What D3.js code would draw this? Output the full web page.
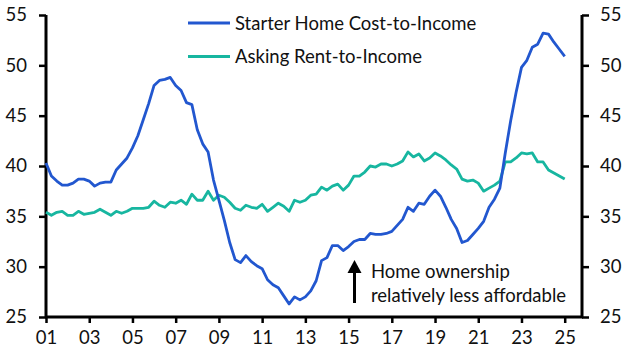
<!DOCTYPE html>
<html>
<head>
<meta charset="utf-8">
<script src="https://cdn.jsdelivr.net/npm/d3@7"></script>
<style>
  body { margin: 0; background: #fff; }
  svg { display: block; font-family: Lato, "Open Sans", sans-serif; }
</style>
</head>
<body>
<div id="chart"></div>
<script>

// quarterly, 2001 Q1 .. 2025 Q1
var startYear = 2001;

var starterHome = [
    40.3, 39.0, 38.5, 38.1, 38.1, 38.3, 38.7, 38.7,
    38.5, 38.0, 38.3, 38.4, 38.4, 39.6, 40.2, 40.8,
    41.8, 43.0, 44.6, 46.2, 48.0, 48.5, 48.6, 48.8,
    48.0, 47.5, 46.3, 46.1, 43.6, 42.2, 41.4, 38.6,
    36.6, 34.6, 32.4, 30.7, 30.4, 31.1, 30.5, 30.1,
    29.8, 28.7, 28.2, 27.9, 27.1, 26.3, 27.0, 26.7,
    27.0, 27.6, 28.6, 30.6, 30.9, 32.1, 32.1, 31.6,
    32.0, 32.5, 32.7, 32.7, 33.3, 33.2, 33.2, 33.3,
    33.5, 34.1, 34.7, 35.9, 35.5, 36.3, 36.2, 37.0,
    37.6, 37.0, 35.9, 34.7, 33.8, 32.4, 32.6, 33.2,
    33.8, 34.5, 35.9, 36.7, 37.8, 41.3, 44.5, 47.3,
    49.8, 50.5, 51.8, 52.1, 53.2, 53.1, 52.3, 51.6,
    50.9
];

var askingRent = [
    35.4, 35.1, 35.4, 35.5, 35.1, 35.1, 35.5, 35.2,
    35.3, 35.4, 35.7, 35.4, 35.1, 35.5, 35.3, 35.5,
    35.8, 35.8, 35.8, 35.9, 36.5, 36.1, 35.9, 36.4,
    36.3, 36.6, 36.2, 37.2, 36.6, 36.6, 37.5, 36.6,
    37.1, 36.9, 36.4, 35.8, 35.6, 36.1, 35.9, 35.8,
    36.2, 35.5, 35.9, 36.3, 36.0, 35.5, 36.6, 36.4,
    36.6, 37.1, 37.2, 37.9, 37.6, 38.0, 38.2, 37.6,
    38.1, 39.0, 39.0, 39.4, 40.0, 39.9, 40.2, 40.2,
    40.0, 40.2, 40.5, 41.4, 40.9, 41.2, 40.5, 40.8,
    41.3, 41.0, 40.6, 40.1, 39.7, 38.7, 38.5, 38.6,
    38.3, 37.5, 37.8, 38.1, 38.5, 40.4, 40.4, 40.8,
    41.3, 41.2, 41.3, 40.4, 40.4, 39.6, 39.3, 39.0,
    38.7
];

var seriesNames = ["Starter Home Cost-to-Income", "Asking Rent-to-Income"];
var seriesColors = ["#2257cf", "#17b6a0"];

var yTicks = [25, 30, 35, 40, 45, 50, 55];
var xTickYears = d3.range(2001, 2026, 2);

var noteLines = ["Home ownership", "relatively less affordable"];

(function() {

    var width = 634, height = 362;
    var plotLeft = 46, plotRight = 582, plotTop = 15, plotBottom = 317;
    var fontSize = "18.5px";

    var svg = d3.select("#chart").append("svg")
        .attr("width", width)
        .attr("height", height);

    var x = d3.scaleLinear().domain([2001, 2025.8]).range([plotLeft, plotRight]);
    var y = d3.scaleLinear().domain([25, 55]).range([plotBottom, plotTop]);

    function toData(arr) {
        return arr.map(function(v, i) { return { t: startYear + i / 4, v: v }; });
    }

    // axes
    var yLeft = svg.append("g")
        .attr("transform", "translate(" + plotLeft + ",0)")
        .call(d3.axisLeft(y).tickValues(yTicks).tickSize(7).tickPadding(12).tickFormat(d3.format("d")));
    var yRight = svg.append("g")
        .attr("transform", "translate(" + plotRight + ",0)")
        .call(d3.axisRight(y).tickValues(yTicks).tickSize(7).tickPadding(11).tickFormat(d3.format("d")));
    var xAxis = svg.append("g")
        .attr("transform", "translate(0," + plotBottom + ")")
        .call(d3.axisBottom(x).tickValues(xTickYears).tickSize(6).tickPadding(8)
            .tickFormat(function(d) { return d3.format("02d")(d % 100); }));

    [yLeft, yRight, xAxis].forEach(function(g) {
        g.select(".domain").remove();
        g.selectAll(".tick line").attr("stroke", "#000").attr("stroke-width", 2.5);
        g.selectAll(".tick text").attr("font-size", fontSize).attr("fill", "#111")
            .style("font-family", "Lato, 'Open Sans', sans-serif");
    });

    // axis lines
    svg.append("line").attr("x1", plotLeft).attr("x2", plotLeft).attr("y1", plotTop).attr("y2", plotBottom + 1)
        .attr("stroke", "#000").attr("stroke-width", 3);
    svg.append("line").attr("x1", plotRight).attr("x2", plotRight).attr("y1", plotTop).attr("y2", plotBottom + 1)
        .attr("stroke", "#000").attr("stroke-width", 3);
    svg.append("line").attr("x1", plotLeft - 1).attr("x2", plotRight + 1).attr("y1", plotBottom).attr("y2", plotBottom)
        .attr("stroke", "#000").attr("stroke-width", 3);

    // lines, rent underneath
    var line = d3.line()
        .x(function(d) { return x(d.t); })
        .y(function(d) { return y(d.v); });

    [[askingRent, 1], [starterHome, 0]].forEach(function(s) {
        svg.append("path")
            .datum(toData(s[0]))
            .attr("d", line)
            .attr("fill", "none")
            .attr("stroke", seriesColors[s[1]])
            .attr("stroke-width", 2.8)
            .attr("stroke-linejoin", "round");
    });

    // legend
    var legend = svg.append("g").attr("transform", "translate(188,23)");
    seriesNames.forEach(function(name, i) {
        var g = legend.append("g").attr("transform", "translate(0," + (i * 33.5) + ")");
        g.append("line").attr("x1", 0).attr("x2", 42).attr("y1", 0).attr("y2", 0)
            .attr("stroke", seriesColors[i]).attr("stroke-width", 3);
        g.append("text").attr("x", 47).attr("y", 6.5)
            .attr("font-size", fontSize).attr("fill", "#111").text(name);
    });

    // annotation arrow
    var ax = 354.5;
    svg.append("line")
        .attr("x1", ax).attr("x2", ax)
        .attr("y1", 303).attr("y2", 270)
        .attr("stroke", "#000").attr("stroke-width", 3);
    svg.append("path")
        .attr("d", "M" + ax + ",260 L" + (ax + 7) + ",273 L" + (ax - 7) + ",273 Z")
        .attr("fill", "#000");

    svg.append("g").selectAll("text")
        .data(noteLines)
        .join("text")
        .attr("x", 371)
        .attr("y", function(d, i) { return 278 + i * 24; })
        .attr("font-size", fontSize)
        .attr("fill", "#111")
        .text(function(d) { return d; });

})();

</script>
</body>
</html>
